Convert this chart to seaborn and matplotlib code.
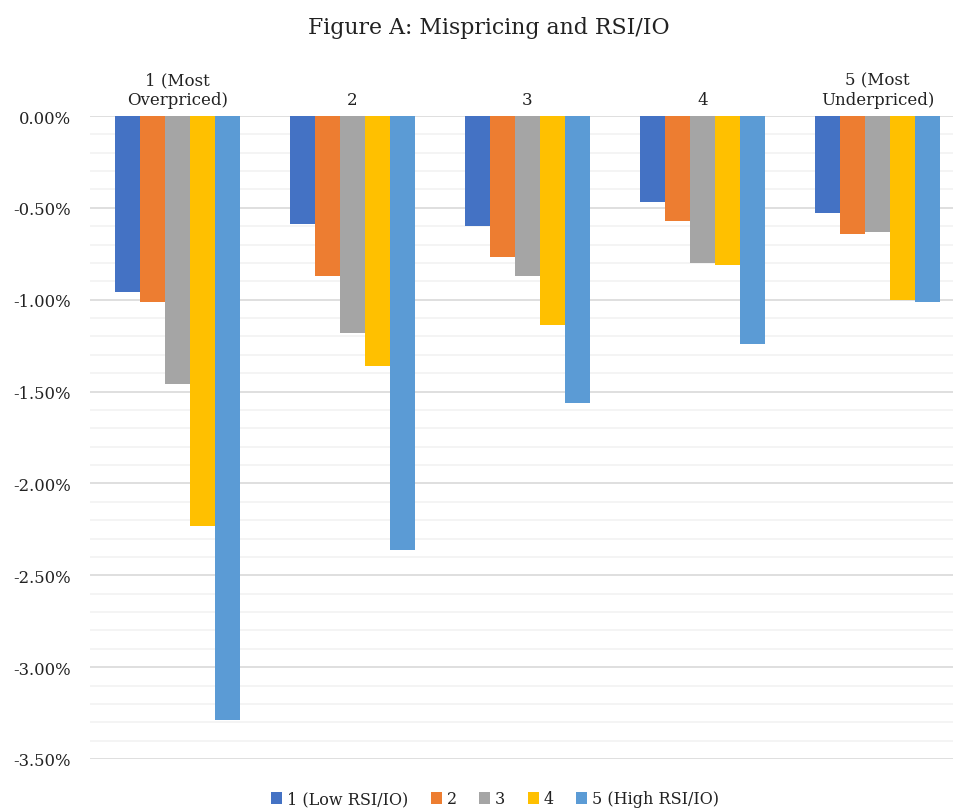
import numpy as np
import pandas as pd
import seaborn as sns
import matplotlib.pyplot as plt
from matplotlib.ticker import MultipleLocator, FuncFormatter

# mispricing quintiles (x groups) and RSI/IO quintiles (bars in each group)
groups = ['1 (Most\nOverpriced)', '2', '3', '4', '5 (Most\nUnderpriced)']
series = ['1 (Low RSI/IO)', '2', '3', '4', '5 (High RSI/IO)']
colors = ['#4472C4', '#ED7D31', '#A5A5A5', '#FFC000', '#5B9BD5']

# returns in %, one list per RSI/IO quintile
low_rsi = [-0.96, -0.59, -0.60, -0.47, -0.53]
rsi_2 = [-1.01, -0.87, -0.77, -0.57, -0.64]
rsi_3 = [-1.46, -1.18, -0.87, -0.80, -0.63]
rsi_4 = [-2.23, -1.36, -1.14, -0.81, -1.00]
high_rsi = [-3.29, -2.36, -1.56, -1.24, -1.01]

rows = []
for name, vals in zip(series, [low_rsi, rsi_2, rsi_3, rsi_4, high_rsi]):
    for g, v in zip(groups, vals):
        rows.append({'group': g, 'series': name, 'value': v})
df = pd.DataFrame(rows)

sns.set_style('white')
plt.rcParams['font.family'] = ['DejaVu Serif']

fig = plt.figure(figsize=(9.54, 8.12), dpi=100)
ax = fig.add_axes([90 / 954, 1 - 760 / 812, 864 / 954, 643 / 812])

sns.barplot(data=df, x='group', y='value', hue='series', order=groups,
            hue_order=series, palette=colors, width=0.714, saturation=1,
            linewidth=0, ax=ax)

ax.set_ylim(-3.5, 0)
ax.set_xlim(-0.5, 4.437)
ax.yaxis.set_major_locator(MultipleLocator(0.5))
ax.yaxis.set_minor_locator(MultipleLocator(0.1))
ax.yaxis.set_major_formatter(FuncFormatter(lambda v, p: f'{v:.2f}%'))
ax.grid(axis='y', which='major', color='#d9d9d9', linewidth=1.2, zorder=0)
ax.grid(axis='y', which='minor', color='#f2f2f2', linewidth=1.2, zorder=0)
ax.set_axisbelow(True)
ax.xaxis.tick_top()
ax.tick_params(axis='x', length=0, pad=6, labelsize=12, colors='#222222')
ax.tick_params(axis='y', which='both', length=0, pad=14, labelsize=11.8,
               colors='#222222')
for s in ax.spines.values():
    s.set_visible(False)
ax.set_xlabel('')
ax.set_ylabel('')

fig.suptitle('Figure A: Mispricing and RSI/IO', x=489 / 954, y=1 - 28 / 812,
             va='center', fontsize=15.8, color='#222222')

sns.move_legend(ax, 'center', bbox_to_anchor=(495 / 954, 1 - 800 / 812),
                bbox_transform=fig.transFigure,
                ncol=5, frameon=False, title=None, fontsize=11.5,
                handlelength=0.7, handleheight=0.7, handletextpad=0.3,
                columnspacing=1.4)
for t in ax.get_legend().get_texts():
    t.set_color('#222222')

fig.savefig('out.png', dpi=100)
